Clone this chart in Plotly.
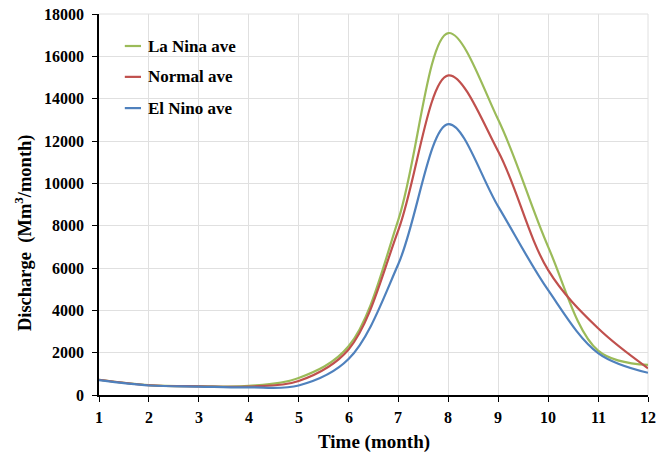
import plotly.graph_objects as go

months = [1, 2, 3, 4, 5, 6, 7, 8, 9, 10, 11, 12]
la_nina = [720, 470, 420, 430, 800, 2300, 8300, 17100, 13000, 7000, 2100, 1420]
normal = [720, 460, 410, 400, 660, 2150, 7800, 15100, 11500, 5900, 3150, 1260]
el_nino = [700, 450, 400, 360, 450, 1700, 6200, 12800, 8900, 4950, 1980, 1050]
series_names = ["La Nina ave", "Normal ave", "El Nino ave"]
colors = ["#9BBB59", "#C0504D", "#4F81BD"]
x_ticks = list(range(1, 13))
y_ticks = list(range(0, 18001, 2000))
y_ticktext = [str(v) for v in y_ticks]
x_title = "Time (month)"
y_title = "Discharge  (Mm<sup>3</sup>/month)"

font = "Liberation Serif, Times New Roman, serif"
fig = go.Figure()
for name, vals, c in zip(series_names, [la_nina, normal, el_nino], colors):
    fig.add_trace(go.Scatter(x=months, y=vals, name=name, mode="lines",
                             line=dict(color=c, width=2.2, shape="spline", smoothing=1.0),
                             showlegend=False))

# light border gridlines at top and right edges
fig.add_shape(type="line", xref="paper", yref="paper", x0=0, x1=1, y0=1, y1=1,
              line=dict(color="#e0e0e0", width=1), layer="below")
fig.add_shape(type="line", xref="paper", yref="paper", x0=1, x1=1, y0=0, y1=1,
              line=dict(color="#e0e0e0", width=1), layer="below")

# custom legend (short line samples like the reference)
leg_y = [0.916, 0.835, 0.753]
for name, c, yy in zip(series_names, colors, leg_y):
    fig.add_shape(type="line", xref="paper", yref="paper", x0=0.047, x1=0.0765,
                  y0=yy, y1=yy, line=dict(color=c, width=2.2))
    fig.add_annotation(xref="paper", yref="paper", x=0.085, y=yy, text=name,
                       showarrow=False, xanchor="left", yanchor="middle",
                       font=dict(family=font, size=17, color="black", weight="bold"))

# x tick labels placed on the x scale
for m in x_ticks:
    fig.add_annotation(x=m, xref="x", y=0, yref="paper", yanchor="middle", yshift=-22,
                       text=str(m), showarrow=False,
                       font=dict(family=font, size=16, color="black", weight="bold"))

# y tick labels placed on the y scale
for v, t in zip(y_ticks, y_ticktext):
    fig.add_annotation(x=0, xref="paper", xanchor="right", xshift=-13, y=v, yref="y",
                       yanchor="middle", text=t, showarrow=False,
                       font=dict(family=font, size=16, color="black", weight="bold"))

# axis titles
fig.add_annotation(x=0.5, xref="paper", y=0, yref="paper", yanchor="middle", yshift=-47,
                   text=x_title, showarrow=False,
                   font=dict(family=font, size=19, color="black", weight="bold"))
fig.add_annotation(x=0, xref="paper", xshift=-76, y=0.425, yref="paper",
                   xanchor="center", yanchor="middle", textangle=-90,
                   text=y_title, showarrow=False,
                   font=dict(family=font, size=18.5, color="black", weight="bold"))

fig.update_layout(
    width=668, height=458,
    margin=dict(l=99, r=20, t=14, b=63),
    plot_bgcolor="white", paper_bgcolor="white",
    font=dict(family=font, size=16, color="black"),
    showlegend=False,
    xaxis=dict(range=[1, 12], tickvals=x_ticks, showgrid=True, gridcolor="#e0e0e0",
               gridwidth=1, showline=True, linecolor="black", linewidth=1.5,
               ticks="outside", ticklen=5, tickcolor="black", zeroline=False,
               automargin=False, showticklabels=False),
    yaxis=dict(range=[0, 18000], tickvals=y_ticks, showgrid=True,
               gridcolor="#e0e0e0", gridwidth=1, showline=True, linecolor="black",
               linewidth=1.5, ticks="outside", ticklen=5, tickcolor="black", zeroline=False,
               automargin=False, showticklabels=False),
)
fig.write_html("out.html", config={"displayModeBar": False},
               post_script="document.body.style.margin='0';")
